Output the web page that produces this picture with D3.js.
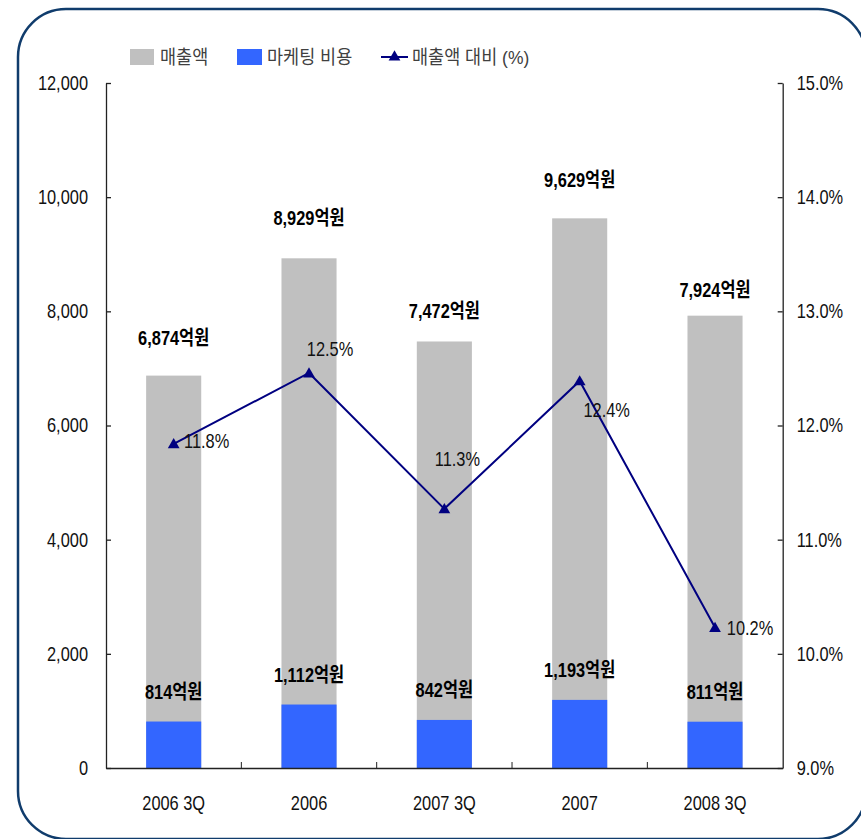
<!DOCTYPE html>
<html>
<head>
<meta charset="utf-8">
<script src="https://cdn.jsdelivr.net/npm/d3@7"></script>
<style>
  body { margin: 0; background: #fff; }
  svg text { font-family: "Liberation Sans", Arial, "Noto Sans CJK KR", sans-serif; }
</style>
</head>
<body>
<div class="chart"></div>
<script>
const categories = ["2006 3Q", "2006", "2007 3Q", "2007", "2008 3Q"]
const sales = [6874, 8929, 7472, 9629, 7924]
const marketing = [814, 1112, 842, 1193, 811]
const ratio = [11.84, 12.46, 11.27, 12.39, 10.23]
const leftTicks = [0, 2000, 4000, 6000, 8000, 10000, 12000]
const rightTicks = [9, 10, 11, 12, 13, 14, 15]
const legendNames = ["매출액", "마케팅 비용", "매출액 대비 (%)"]

// manual label placement, like the original sheet
const salesLabelLift = [38, 40, 30, 38, 26]
const ratioLabelNudge = [[33, -3], [21, -24], [13, -50], [27, 29], [35, 0]]

const svgWidth = 861
const svgHeight = 839
const squeeze = 0.82

const svg = d3.select(".chart").append("svg")
    .attr("width", svgWidth)
    .attr("height", svgHeight)

// rounded frame
svg.append("rect")
    .attr("x", 18).attr("y", 9)
    .attr("width", 848).attr("height", 830)
    .attr("rx", 48).attr("ry", 48)
    .attr("fill", "none")
    .attr("stroke", "#103c6c")
    .attr("stroke-width", 2.5)

const plotLeft = 106, plotRight = 782.7, plotTop = 83, plotBottom = 768

const xScale = d3.scaleBand()
    .domain(categories)
    .range([plotLeft, plotRight])
    .paddingInner(0.593)
    .paddingOuter(0.2966)

const yScale = d3.scaleLinear().domain([0, 12000]).range([plotBottom, plotTop])
const pScale = d3.scaleLinear().domain([9, 15]).range([plotBottom, plotTop])

// narrow text helper
function label(g, x, y, str, opts = {}) {
    return g.append("text")
        .attr("transform", `translate(${x},${y}) scale(${opts.k || squeeze},1)`)
        .attr("text-anchor", opts.anchor || "middle")
        .attr("dy", "0.35em")
        .attr("font-size", (opts.size || 20) + "px")
        .attr("font-weight", opts.bold ? "bold" : "normal")
        .attr("fill", opts.fill || "#111")
        .text(str)
}

// bars
const bars = svg.append("g")
categories.forEach((c, i) => {
    bars.append("rect")
        .attr("x", xScale(c))
        .attr("y", yScale(sales[i]))
        .attr("width", xScale.bandwidth())
        .attr("height", plotBottom - yScale(sales[i]))
        .attr("fill", "#c0c0c0")
    bars.append("rect")
        .attr("x", xScale(c))
        .attr("y", yScale(marketing[i]))
        .attr("width", xScale.bandwidth())
        .attr("height", plotBottom - yScale(marketing[i]))
        .attr("fill", "#3366ff")
})

// axes
const yAxis = svg.append("g")
    .attr("transform", `translate(${plotLeft},0)`)
    .call(d3.axisLeft(yScale).tickValues(leftTicks).tickSize(-5).tickSizeOuter(0)
        .tickFormat(d3.format(",")))
yAxis.selectAll("text")
    .attr("transform", `scale(${squeeze},1)`)
    .attr("x", -18 / squeeze)
    .attr("font-size", "20px")
    .attr("fill", "#111")

const pAxis = svg.append("g")
    .attr("transform", `translate(${plotRight},0)`)
    .call(d3.axisRight(pScale).tickValues(rightTicks).tickSize(-5).tickSizeOuter(0)
        .tickFormat(d => d.toFixed(1) + "%"))
pAxis.selectAll("text")
    .attr("transform", `scale(${squeeze},1)`)
    .attr("x", 14 / squeeze)
    .attr("font-size", "20px")
    .attr("fill", "#111")

const xAxis = svg.append("g")
    .attr("transform", `translate(0,${plotBottom})`)
    .call(d3.axisBottom(xScale).tickSize(0).tickSizeOuter(0))
xAxis.selectAll("text").remove()
categories.slice(0, -1).forEach(c => {
    const bx = xScale(c) + xScale.bandwidth() / 2 + xScale.step() / 2
    xAxis.append("line")
        .attr("x1", bx).attr("x2", bx)
        .attr("y1", 0).attr("y2", -6)
        .attr("stroke", "#222")
})
categories.forEach(c => {
    label(xAxis, xScale(c) + xScale.bandwidth() / 2, 35, c)
})

svg.selectAll(".domain, .tick line")
    .attr("stroke", "#222")
    .attr("stroke-width", 1.3)

// ratio line
const cx = c => xScale(c) + xScale.bandwidth() / 2
const line = d3.line()
    .x((d, i) => cx(categories[i]))
    .y(d => pScale(d))

svg.append("path")
    .datum(ratio)
    .attr("d", line)
    .attr("fill", "none")
    .attr("stroke", "#000080")
    .attr("stroke-width", 2)

const tri = d3.symbol().type(d3.symbolTriangle).size(60)
ratio.forEach((d, i) => {
    svg.append("path")
        .attr("d", tri)
        .attr("transform", `translate(${cx(categories[i])},${pScale(d) + 1})`)
        .attr("fill", "#000080")
    label(svg, cx(categories[i]) + ratioLabelNudge[i][0], pScale(d) + ratioLabelNudge[i][1],
        d.toFixed(1) + "%")
})

// value labels
categories.forEach((c, i) => {
    label(svg, cx(c), yScale(sales[i]) - salesLabelLift[i],
        d3.format(",")(sales[i]) + "억원", { bold: true, fill: "#000" })
    label(svg, cx(c), yScale(marketing[i]) - 30,
        d3.format(",")(marketing[i]) + "억원", { bold: true, fill: "#000" })
})

// legend
const legend = svg.append("g")
const legendFont = { anchor: "start", size: 19, k: 0.92, fill: "#404040" }
legend.append("rect").attr("x", 130).attr("y", 49).attr("width", 24).attr("height", 16).attr("fill", "#c0c0c0")
label(legend, 160, 57, legendNames[0], legendFont)
legend.append("rect").attr("x", 237).attr("y", 49).attr("width", 25).attr("height", 16).attr("fill", "#3366ff")
label(legend, 267, 57, legendNames[1], legendFont)
legend.append("line").attr("x1", 381).attr("x2", 408).attr("y1", 57).attr("y2", 57)
    .attr("stroke", "#000080").attr("stroke-width", 2)
legend.append("path").attr("d", tri).attr("transform", "translate(394.5,57)").attr("fill", "#000080")
label(legend, 412, 57, legendNames[2], legendFont)
</script>
</body>
</html>
